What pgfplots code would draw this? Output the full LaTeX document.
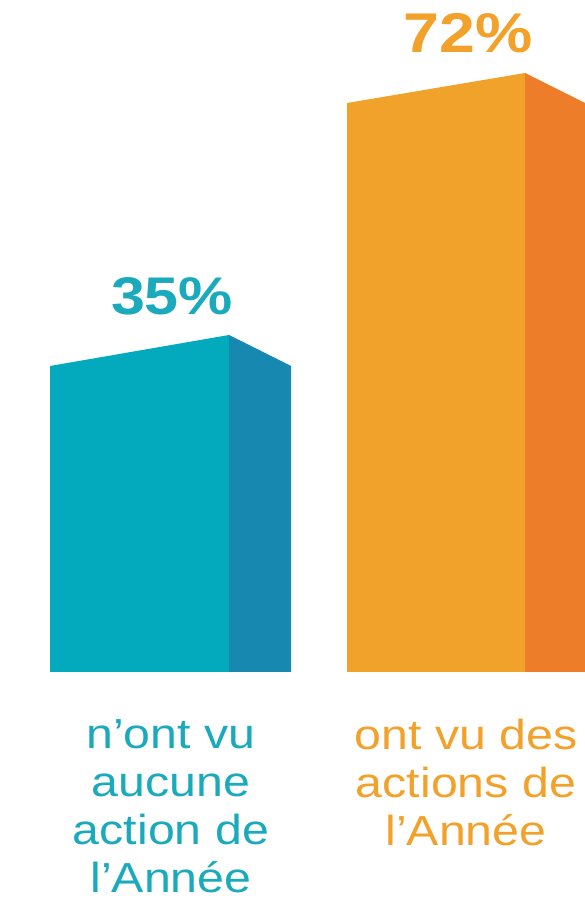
\documentclass[border=0pt]{standalone}
\usepackage{fontspec}
\setmainfont{Liberation Sans}[FakeStretch=1.15]
\usepackage{pgfplots}
\pgfplotsset{compat=1.18}

\definecolor{tealfront}{HTML}{03A9BD}
\definecolor{tealside}{HTML}{1788B0}
\definecolor{tealtext}{HTML}{1AAABC}
\definecolor{orgfront}{HTML}{F0A22A}
\definecolor{orgside}{HTML}{EE7D2A}
\definecolor{orgtext}{HTML}{F2A22B}

\begin{document}
\begin{tikzpicture}
\begin{axis}[
    width=585pt, height=899pt,
    scale only axis,
    xmin=0, xmax=585,
    ymin=-227, ymax=672,
    hide axis,
    clip=false,
]
% bar 1: 35%
\addplot[fill=tealfront, draw=none] coordinates {(50,0) (50,306) (229,337) (229,0)} --cycle;
\addplot[fill=tealside, draw=none] coordinates {(229,0) (229,337) (291,306) (291,0)} --cycle;
% bar 2: 72%
\addplot[fill=orgfront, draw=none] coordinates {(347,0) (347,569) (525,599) (525,0)} --cycle;
\addplot[fill=orgside, draw=none] coordinates {(525,0) (525,599) (585,569) (585,0)} --cycle;

% value labels
\node[text=tealtext, font=\fontsize{53}{53}\selectfont\bfseries, anchor=base, inner sep=0]
    at (axis cs:172,357) {35\%};
\node[text=orgtext, font=\fontsize{56}{56}\selectfont\bfseries, anchor=base, inner sep=0]
    at (axis cs:468,619) {72\%};

% category labels
\node[text=tealtext, font=\fontsize{42}{48}\selectfont, align=center, anchor=north, inner sep=0]
    at (axis cs:171,-47) {n’ont vu\\aucune\\action de\\l’Année};
\node[text=orgtext, font=\fontsize{42}{48}\selectfont, align=center, anchor=north, inner sep=0]
    at (axis cs:466,-47) {ont vu des\\actions de\\l’Année};
\end{axis}
\pgfresetboundingbox
\path (current axis.south west) rectangle (current axis.north east);
\end{tikzpicture}
\end{document}
